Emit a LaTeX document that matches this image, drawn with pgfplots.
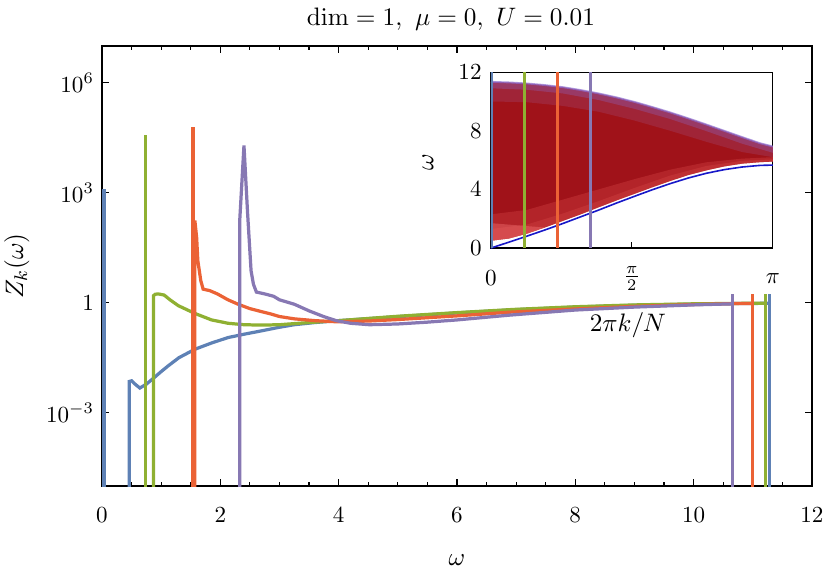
\documentclass[border=0pt]{standalone}
\usepackage{pgfplots}
\pgfplotsset{compat=1.18}
\definecolor{mblue}{HTML}{5E81B5}
\definecolor{mgreen}{HTML}{8FB032}
\definecolor{mred}{HTML}{EB6235}
\definecolor{mpurple}{HTML}{8778B3}
\definecolor{dred}{HTML}{A01219}
\definecolor{lred}{HTML}{D84848}
\definecolor{mauve}{HTML}{A04E7E}
\definecolor{edgep}{HTML}{8C6CD0}
\definecolor{dblue}{HTML}{1818C8}
\newcommand{\lblfont}{\fontsize{11.4}{13.7}\selectfont}
\newcommand{\tckfont}{\fontsize{10.4}{12.5}\selectfont}
\begin{document}
\begin{tikzpicture}[x=1pt,y=1pt]
\useasboundingbox (0,0) rectangle (360,250.7);
\begin{axis}[
  at={(44.24pt,39.9pt)}, anchor=south west,
  width=307.9pt, height=190.8pt, scale only axis,
  xmin=0, xmax=12, ymin=1e-5, ymax=1e7, ymode=log, log basis y=10,
  xtick={0,2,...,12}, minor x tick num=3,
  ytick={1e-3,1,1e3,1e6}, yticklabels={$10^{-3}$,$1$,$10^{3}$,$10^{6}$},
  yminorticks=false,
  tick align=inside, major tick length=3pt, minor tick length=1.7pt,
  tick style={black, line width=0.5pt},
  axis line style={line width=0.6pt},
  tick label style={font=\tckfont},
  xticklabel style={anchor=center, yshift=-12.8pt},
  xlabel={$\omega$}, ylabel={$Z_k(\omega)$},
  label style={font=\lblfont},
  xlabel style={at={(axis description cs:0.5,-0.168)}, anchor=center},
  ylabel style={at={(axis description cs:-0.12,0.5)}, anchor=center},
  title={$\mathrm{dim}=1,\ \mu=0,\ U=0.01$},
  title style={at={(axis description cs:0.4915,1.07)}, anchor=center, yshift=-7.5pt, font=\lblfont},
  every axis plot/.append style={line width=1.4pt},
]
% blue k=0
\addplot[mblue, line width=1.8pt] coordinates {(0.03,1e-9) (0.03,1300)};
\addplot[mblue] coordinates {(0.46,1e-9) (0.46,7.1e-3) (0.50,7.4e-3) (0.56,6.0e-3) (0.64,4.7e-3) (0.75,6.0e-3) (0.87,8.7e-3) (1.0,0.0132) (1.12,0.019) (1.3,0.0316) (1.57,0.0537) (1.85,0.0794) (2.13,0.112) (2.4,0.138) (2.69,0.170) (3.0,0.214) (3.25,0.251) (3.6,0.288) (4.0,0.324) (5.0,0.417) (6.0,0.525) (7.0,0.646) (8.0,0.759) (9.0,0.851) (10.0,0.912) (10.66,0.944) (11.0,0.955) (11.29,0.966)};
\addplot[mblue] coordinates {(11.29,1e-9) (11.29,1.74)};
% green k=1
\addplot[mgreen] coordinates {(0.74,1e-9) (0.74,3.8e4)};
\addplot[mgreen] coordinates {(0.87,1e-9) (0.87,1.55) (0.90,1.70) (0.95,1.74) (1.05,1.62) (1.15,1.2) (1.29,0.83) (1.57,0.51) (1.85,0.34) (2.13,0.275) (2.4,0.251) (2.69,0.245) (3.0,0.251) (3.25,0.269) (3.6,0.295) (4.0,0.324) (5.0,0.427) (6.0,0.537) (7.0,0.661) (8.0,0.776) (9.0,0.871) (10.0,0.933) (10.66,0.955) (11.0,0.966) (11.22,0.972)};
\addplot[mgreen] coordinates {(11.22,1e-9) (11.22,1.74)};
% red k=2
\addplot[mred] coordinates {(1.54,1e-9) (1.54,6.4e4)};
\addplot[mred] coordinates {(1.57,1e-9) (1.57,174) (1.60,60) (1.62,14) (1.67,4) (1.71,2.34) (1.82,2.14) (1.95,1.74) (2.13,1.2) (2.30,0.91) (2.5,0.69) (2.69,0.575) (2.86,0.49) (3.0,0.42) (3.25,0.363) (3.6,0.324) (3.96,0.302) (4.5,0.316) (5.0,0.347) (6.0,0.437) (6.88,0.55) (8.0,0.676) (9.0,0.794) (10.0,0.891) (10.66,0.944) (11.0,0.955)};
\addplot[mred] coordinates {(11.0,1e-9) (11.0,1.74)};
% purple k=3
\addplot[mpurple] coordinates {(2.33,1e-9) (2.33,195) (2.40,1.95e4) (2.46,300) (2.52,7.4) (2.56,3.2) (2.61,1.95) (2.75,1.74) (2.9,1.5) (3.0,1.2) (3.25,0.91) (3.5,0.60) (3.75,0.417) (3.96,0.324) (4.2,0.275) (4.52,0.251) (5.0,0.263) (5.5,0.295) (6.0,0.339) (6.88,0.457) (8.0,0.631) (9.0,0.759) (10.0,0.871) (10.66,0.933)};
\addplot[mpurple] coordinates {(10.66,1e-9) (10.66,1.74)};
\end{axis}
\begin{axis}[
  at={(212.9pt,143.1pt)}, anchor=south west,
  width=122.3pt, height=76.3pt, scale only axis,
  xmin=0, xmax=3.14159, ymin=0, ymax=12,
  xtick={0,1.5708,3.14159}, xticklabels={$0$,$\frac{\pi}{2}$,$\pi$},
  ytick={0,4,8,12},
  xtick pos=left, ytick pos=left,
  tick align=inside, major tick length=2.5pt,
  tick style={black, line width=0.5pt},
  axis line style={line width=0.5pt},
  tick label style={font=\tckfont},
  xticklabel style={anchor=center, yshift=-13.2pt},
  yticklabel style={xshift=-0.5pt},
  xlabel={$2\pi k/N$}, ylabel={$\omega$},
  label style={font=\lblfont},
  xlabel style={at={(axis description cs:0.486,-0.4375)}, anchor=center},
  ylabel style={at={(axis description cs:-0.223,0.489)}, anchor=center},
]
% continuum region
\addplot[draw=none, fill=dred] coordinates {(0,11.34) (0.2,11.3) (0.4,11.23) (0.6,11.12) (0.8,10.98) (1.0,10.78) (1.2,10.55) (1.4,10.28) (1.6,9.97) (1.8,9.62) (2.0,9.25) (2.2,8.85) (2.4,8.43) (2.6,8.0) (2.8,7.57) (3.0,7.15) (3.1416,6.93)
 (3.1416,5.9) (3.0,5.86) (2.8,5.76) (2.6,5.57) (2.4,5.3) (2.2,4.98) (2.0,4.58) (1.8,4.15) (1.6,3.7) (1.4,3.25) (1.2,2.78) (1.0,2.3) (0.8,1.85) (0.6,1.40) (0.4,0.98) (0.2,0.65) (0,0.5)};
% lighter lower bands
\addplot[draw=none, fill=lred, fill opacity=0.35] coordinates {(0,0.5) (0.2,0.65) (0.4,0.98) (0.6,1.40) (0.8,1.85) (1.0,2.3) (1.2,2.78) (1.4,3.25) (1.6,3.7) (1.8,4.15) (2.0,4.58) (2.2,4.98) (2.4,5.3) (2.6,5.57) (2.8,5.76) (3.0,5.86) (3.1416,5.9)
 (3.1416,6.2) (2.8,6.1) (2.4,5.85) (2.0,5.35) (1.6,4.7) (1.2,4.0) (0.8,3.3) (0.4,2.6) (0,2.3)};
\addplot[draw=none, fill=lred, fill opacity=0.35] coordinates {(0,0.5) (0.2,0.65) (0.4,0.98) (0.6,1.40) (0.8,1.85) (1.0,2.3) (1.2,2.78) (1.4,3.25) (1.6,3.7) (1.8,4.15) (2.0,4.58) (2.2,4.98) (2.4,5.3) (2.6,5.57) (2.8,5.76) (3.0,5.86) (3.1416,5.9)
 (3.1416,6.05) (2.8,5.95) (2.4,5.6) (2.0,4.95) (1.6,4.1) (1.2,3.2) (0.8,2.35) (0.4,1.6) (0,1.3)};
\addplot[draw=none, fill=red!50!white, fill opacity=0.35] coordinates {(0,0.5) (0.2,0.65) (0.4,0.98) (0.6,1.40) (0.4,1.5) (0.2,1.6) (0,1.7)};
% mauve upper bands
\addplot[draw=none, fill=mauve, fill opacity=0.3] coordinates {(0,11.34) (0.2,11.3) (0.4,11.23) (0.6,11.12) (0.8,10.98) (1.0,10.78) (1.2,10.55) (1.4,10.28) (1.6,9.97) (1.8,9.62) (2.0,9.25) (2.2,8.85) (2.4,8.43) (2.6,8.0) (2.8,7.57) (3.0,7.15) (3.1416,6.93)
 (3.1416,6.2) (2.8,6.55) (2.4,7.25) (2.0,8.0) (1.6,8.7) (1.2,9.3) (0.8,9.7) (0.4,9.95) (0,10.0)};
\addplot[draw=none, fill=edgep, fill opacity=0.3] coordinates {(0,11.34) (0.2,11.3) (0.4,11.23) (0.6,11.12) (0.8,10.98) (1.0,10.78) (1.2,10.55) (1.4,10.28) (1.6,9.97) (1.8,9.62) (2.0,9.25) (2.2,8.85) (2.4,8.43) (2.6,8.0) (2.8,7.57) (3.0,7.15) (3.1416,6.93)
 (3.1416,6.5) (2.8,7.12) (2.4,7.98) (2.0,8.8) (1.6,9.5) (1.2,10.1) (0.8,10.55) (0.4,10.8) (0,10.9)};
\addplot[color=edgep, line width=0.8pt, opacity=0.7] coordinates {(0,11.34) (0.2,11.3) (0.4,11.23) (0.6,11.12) (0.8,10.98) (1.0,10.78) (1.2,10.55) (1.4,10.28) (1.6,9.97) (1.8,9.62) (2.0,9.25) (2.2,8.85) (2.4,8.43) (2.6,8.0) (2.8,7.57) (3.0,7.15) (3.1416,6.93)};
\addplot[dblue, line width=0.7pt] coordinates {(0,0) (0.2,0.40) (0.4,0.81) (0.6,1.23) (0.8,1.67) (1.0,2.13) (1.2,2.59) (1.4,3.07) (1.6,3.53) (1.8,3.98) (2.0,4.40) (2.2,4.78) (2.4,5.10) (2.6,5.35) (2.8,5.53) (3.0,5.64) (3.1416,5.66)};
\addplot[mblue, line width=1.8pt] coordinates {(0,0) (0,12)};
\addplot[mgreen, line width=1.3pt] coordinates {(0.3696,0) (0.3696,12)};
\addplot[mred, line width=1.3pt] coordinates {(0.7392,0) (0.7392,12)};
\addplot[mpurple, line width=1.3pt] coordinates {(1.1088,0) (1.1088,12)};
\end{axis}
\end{tikzpicture}
\end{document}
